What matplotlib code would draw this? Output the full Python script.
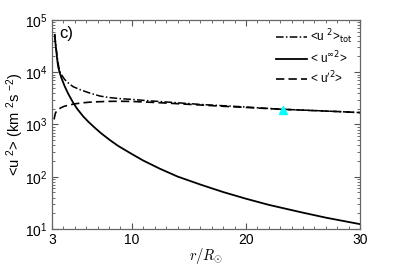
import matplotlib
matplotlib.use("Agg")
import matplotlib.pyplot as plt
from matplotlib.ticker import FixedLocator, LogLocator, NullFormatter, FixedFormatter

plt.rcParams['font.family'] = ['Liberation Sans', 'DejaVu Sans']
plt.rcParams['mathtext.fontset'] = 'custom'
plt.rcParams['mathtext.rm'] = 'Liberation Sans'
plt.rcParams['mathtext.it'] = 'Liberation Sans:italic'
plt.rcParams['mathtext.cal'] = 'Liberation Sans'

# u_inf^2 (solid)
r_inf = [3.24, 3.3, 3.38, 3.45, 3.53, 3.65, 3.82, 4.11, 4.4, 4.84, 5.2, 5.72, 6.2, 6.74, 7.3, 8.09, 8.8,
         9.84, 11.0, 12.47, 14.0, 16.0, 18.0, 20.0, 22.0, 24.8, 27.0, 30.0]
u_inf = [52000, 36000, 25000, 18000, 13000, 10200, 7800, 5400, 3950, 2640, 2000, 1440, 1120, 870, 680, 500, 389,
         285, 204, 142, 101, 71, 51, 38, 29, 21, 16.5, 12.4]

# u'^2 (dashed)
r_p = [3.18, 3.24, 3.3, 3.4, 3.53, 3.8, 4.1, 4.6, 5.0, 5.6, 6.3, 7.0, 8.0, 9.0, 10.0, 12.0, 14.0, 16.0, 18.0,
       20.0, 22.0, 24.0, 26.0, 28.0, 30.0]
u_p = [1250, 1450, 1650, 1800, 1930, 2100, 2240, 2380, 2480, 2590, 2670, 2720, 2770, 2780, 2760, 2640, 2500, 2360,
       2230, 2120, 2010, 1920, 1840, 1770, 1690]

# <u^2>_tot (dash-dot)
r_tot = [3.24, 3.3, 3.38, 3.53, 3.67, 3.82, 4.1, 4.4, 4.84, 5.5, 6.3, 7.2, 8.0, 9.0, 10.0, 11.5, 13.0, 16.0,
         20.0, 23.2, 26.0, 30.0]
u_tot = [53000, 38000, 26500, 15000, 10500, 9000, 7300, 6300, 5300, 4600, 4000, 3500, 3280, 3120, 3020, 2840,
         2700, 2420, 2160, 1950, 1850, 1690]

# triangle marker
tri_r = [23.26]
tri_u = [1900]

xticks = [3, 10, 20, 30]
yticks = [1e1, 1e2, 1e3, 1e4, 1e5]
ytick_labels = ['10$^{1}$', '10$^{2}$', '10$^{3}$', '10$^{4}$', '10$^{5}$']

fig = plt.figure(figsize=(3.97, 2.66), dpi=100)
ax = fig.add_axes([0.131, 0.139, 0.776, 0.786])

ax.plot(r_tot, u_tot, color='black', lw=1.1, linestyle=(0, (5, 1.5, 1, 1.5)), label='<u $^{2}$>$_{\\rm tot}$')
ax.plot(r_inf, u_inf, color='black', lw=1.3, linestyle='-', label='< u$^{\\infty 2}$>')
ax.plot(r_p, u_p, color='black', lw=1.2, linestyle=(0, (5, 2.5)), label='< u$^{\\prime 2}$>')
ax.plot(tri_r, tri_u, marker='^', color='cyan', markersize=6, linestyle='none')

ax.set_yscale('log')
ax.set_xlim(3, 30)
ax.set_ylim(1e1, 1e5)

ax.xaxis.set_major_locator(FixedLocator(xticks))
ax.xaxis.set_major_formatter(FixedFormatter([str(v) for v in xticks]))
ax.xaxis.set_minor_locator(FixedLocator(list(range(4, 30))))
ax.yaxis.set_major_locator(FixedLocator(yticks))
ax.yaxis.set_major_formatter(FixedFormatter(ytick_labels))
ax.yaxis.set_minor_locator(LogLocator(base=10, subs=range(2, 10)))
ax.yaxis.set_minor_formatter(NullFormatter())

ax.tick_params(which='both', direction='in', top=True, right=True, labelsize=10, color='#555555')
ax.tick_params(which='major', length=4, width=0.8)
ax.tick_params(which='minor', length=2, width=0.6)
ax.tick_params(axis='x', pad=3)
for s in ax.spines.values():
    s.set_color('#666666')
    s.set_linewidth(0.9)

ax.set_xlabel('$r/R_{\\odot}$', fontsize=10.5, math_fontfamily='cm', labelpad=-1)
ax.set_ylabel('<u $^{2}$> (km $^{2}$s $^{-2}$)', fontsize=10.5)
ax.yaxis.set_label_coords(-0.085, 0.5)

ax.text(0.025, 0.97, 'c)', transform=ax.transAxes, fontsize=12, va='top', ha='left')

leg = ax.legend(loc='upper right', frameon=False, fontsize=8.5, handlelength=2.6,
                handletextpad=0.3, labelspacing=0.3, borderaxespad=0.2,
                bbox_to_anchor=(1.0, 1.0))
for t in leg.get_texts():
    t.set_math_fontfamily('dejavusans')

fig.savefig('out.png', dpi=100)
